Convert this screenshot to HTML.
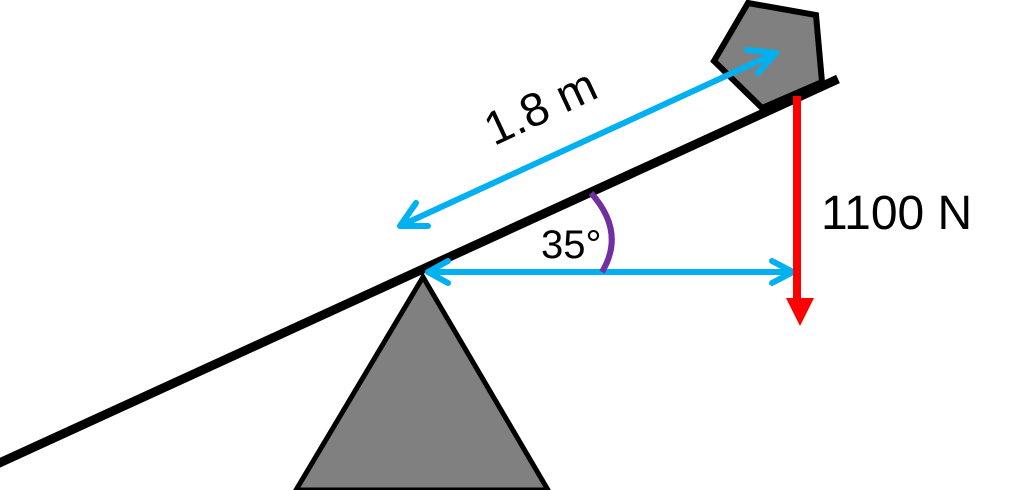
<!DOCTYPE html>
<html><head><meta charset="utf-8"><style>
html,body{margin:0;padding:0;background:#fff;width:1024px;height:490px;overflow:hidden}
</style></head><body>
<svg width="1024" height="490" viewBox="0 0 1024 490" xmlns="http://www.w3.org/2000/svg" font-family="Liberation Sans, sans-serif">
<polygon points="748,3 816,15 822,82 762,108 714,61" fill="#808080" stroke="#000" stroke-width="6" stroke-linejoin="miter"/>
<polygon points="423,277 296,490 548,490" fill="#808080" stroke="#000" stroke-width="5"/>
<line x1="-5" y1="465" x2="838" y2="79" stroke="#000" stroke-width="9"/>
<g stroke="#00b0f0" stroke-width="6" fill="none" stroke-linecap="round" stroke-linejoin="round">
<line x1="402" y1="225" x2="776" y2="53"/>
<polyline points="416,203 400,226 428,226"/>
<polyline points="747,50 776,53 758,73"/>
<line x1="428" y1="272" x2="793" y2="272"/>
<polyline points="448,261 428,272 448,283"/>
<polyline points="772,261 793,272 772,283"/>
</g>
<path d="M591,193 Q626,232 602,272" stroke="#7030a0" stroke-width="6" fill="none"/>
<line x1="797" y1="96" x2="797" y2="300" stroke="#f00" stroke-width="8"/>
<polygon points="786,298 814,298 800,326" fill="#f00"/>
<text x="540" y="123" font-size="47" text-anchor="middle" transform="rotate(-25 540 106)">1.8 m</text>
<text x="821" y="229" font-size="48">1100 N</text>
<text x="541" y="258" font-size="40">35°</text>
</svg>
</body></html>
